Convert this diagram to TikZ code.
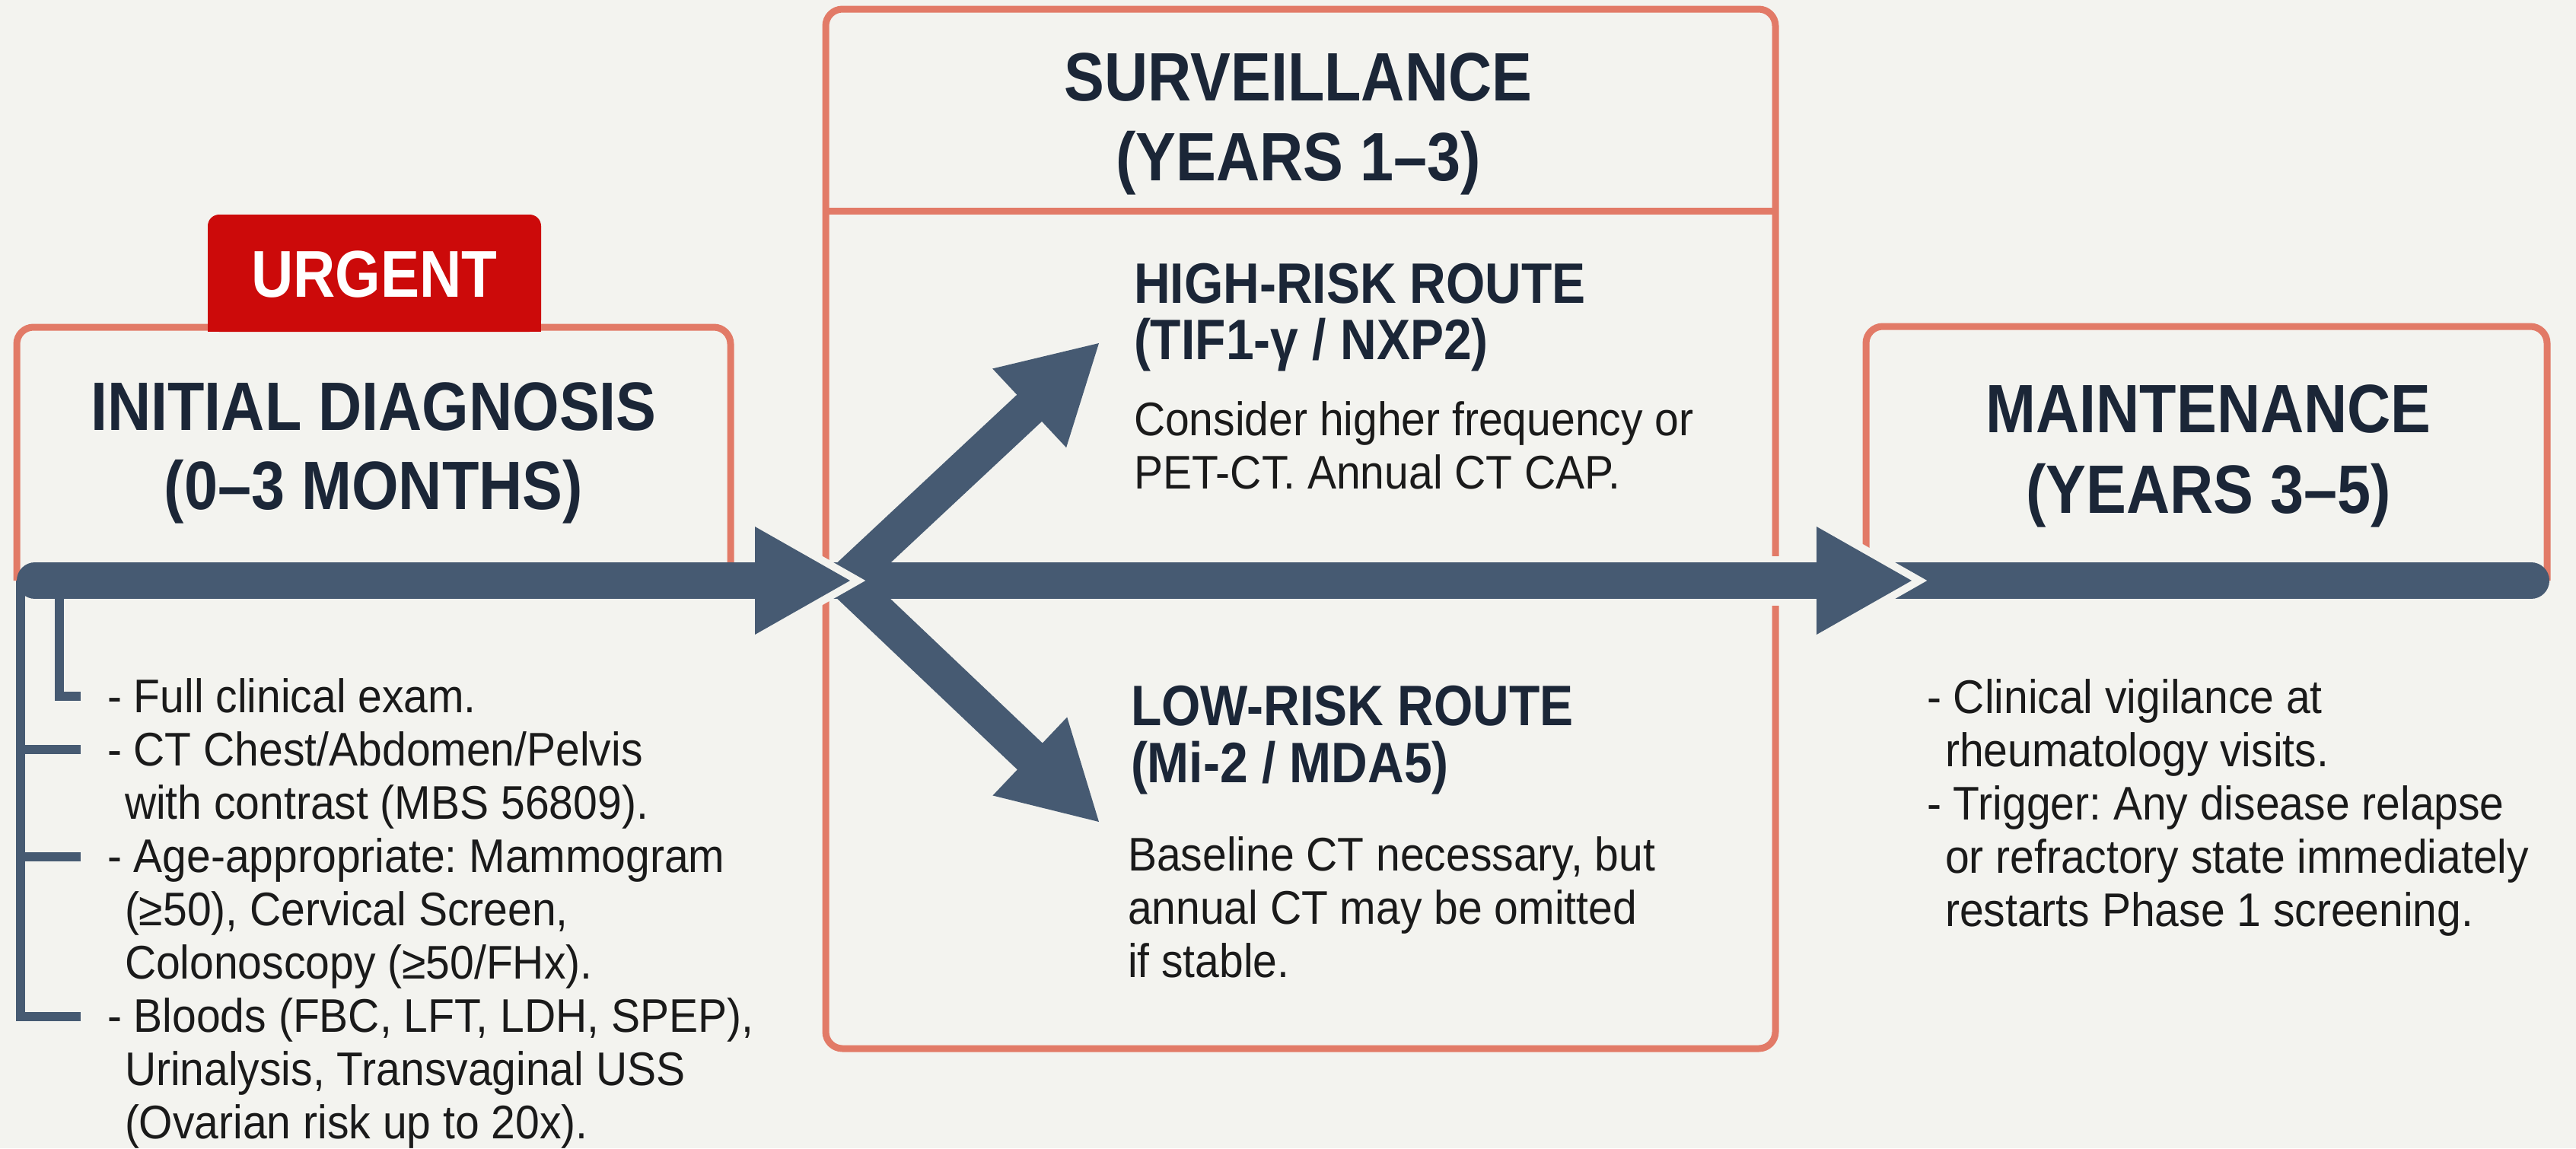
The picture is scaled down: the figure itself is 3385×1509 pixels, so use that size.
\documentclass[tikz,border=0pt]{standalone}
\usepackage{fontspec}
\setmainfont{Liberation Sans}
\newfontfamily\headfont[FakeStretch=0.88]{Liberation Sans}
\newfontfamily\bodyfont[FakeStretch=0.92]{Liberation Sans}
\usetikzlibrary{calc}
\definecolor{bgc}{HTML}{F3F3EF}
\definecolor{slate}{HTML}{465A72}
\definecolor{salmon}{HTML}{E27A67}
\definecolor{urgred}{HTML}{CC0A0A}
\definecolor{navy}{HTML}{1B2637}
\definecolor{bodyc}{HTML}{1A1A1A}
\frenchspacing
\newcommand\arrowheadto[2]{%
  \coordinate (#2b) at ($(#2)!25pt!(#1)$);
  \coordinate (#2l) at ($(#2b)!14.2pt!90:(#2)$);
  \coordinate (#2r) at ($(#2b)!14.2pt!-90:(#2)$);
  \draw[bgc, line width=4pt, line join=miter] (#2l) -- (#2) -- (#2r);
  \fill[slate] (#2l) -- (#2) -- (#2r) -- cycle;
}
\newcommand\lines[1]{\vtop{\lineskiplimit=-100pt\relax #1}}
\begin{document}
\begin{tikzpicture}[x=0.2pt,y=-0.2pt,
  boxline/.style={draw=salmon, line width=1.8pt, rounded corners=4.4pt},
  shaft/.style={draw=slate, line width=9.6pt},
  bracket/.style={draw=slate, line width=2.4pt, line join=miter},
  head/.style={inner sep=0pt, text=navy, font=\headfont\bfseries\fontsize{18}{21}\selectfont},
  urg/.style={inner sep=0pt, text=white, font=\headfont\bfseries\fontsize{17.4}{21}\selectfont},
  route/.style={inner sep=0pt, text=navy, font=\headfont\bfseries\fontsize{15}{18}\selectfont},
  body/.style={inner sep=0pt, text=bodyc, font=\bodyfont\frenchspacing\fontsize{12.4}{14}\selectfont},
]
\useasboundingbox[fill=bgc] (0,0) rectangle (3385,1509);

% boxes
\draw[boxline] (22,763) -- (22,430) -- (960,430) -- (960,763);
\fill[urgred, rounded corners=3pt] (273,282) rectangle (711,436);
\fill[urgred] (273,380) rectangle (711,436);
\draw[boxline] (1085,12) rectangle (2333,1378);
\draw[draw=salmon, line width=1.8pt] (1085,277) -- (2333,277);
\draw[boxline] (2452,763) -- (2452,429) -- (3347,429) -- (3347,763);

% coordinates
\coordinate (barL) at (46,763);
\coordinate (barR) at (3326,763);
\coordinate (fork) at (1110,763);
\coordinate (inA) at (900,763);
\coordinate (tipA) at (1117,763);
\coordinate (inB) at (2300,763);
\coordinate (tipB) at (2512,763);
\coordinate (tipUp) at (1444,451);
\coordinate (tipDn) at (1444,1080);

% halo where bar crosses the right border of the surveillance box
\draw[bgc, line width=13pt] (2318,763) -- (2348,763);
% main bar
\draw[shaft, line cap=round] (barL) -- (barR);
% branches
\draw[shaft] (fork) -- ($(tipUp)!20pt!(fork)$);
\draw[shaft] (fork) -- ($(tipDn)!20pt!(fork)$);

% bracket
\draw[bracket] (27,763) -- (27,1336) -- (106,1336);
\draw[bracket] (27,985) -- (106,985);
\draw[bracket] (27,1126) -- (106,1126);
\draw[bracket] (78,763) -- (78,915) -- (106,915);

% arrow heads
\arrowheadto{inA}{tipA}
\arrowheadto{fork}{tipUp}
\arrowheadto{fork}{tipDn}
\arrowheadto{inB}{tipB}

% texts
\node[urg, anchor=base] (urgent) at (492,390) {URGENT};
\node[head, anchor=base] (initA) at (491,565) {INITIAL DIAGNOSIS};
\node[head, anchor=base] (initB) at (491,669) {(0–3 MONTHS)};
\node[head, anchor=base] (survA) at (1706,132) {SURVEILLANCE};
\node[head, anchor=base] (survB) at (1706,237) {(YEARS 1–3)};
\node[head, anchor=base] (mainA) at (2902,568) {MAINTENANCE};
\node[head, anchor=base] (mainB) at (2902,674) {(YEARS 3–5)};

\node[route, anchor=base west] (hiA) at (1489,398) {HIGH-RISK ROUTE};
\node[route, anchor=base west] (hiB) at (1489,472) {(TIF1-γ / NXP2)};
\node[body, anchor=base west] (hiC) at (1489,572) {\lines{\hbox{Consider higher frequency or}\hbox{PET-CT. Annual CT CAP.}}};

\node[route, anchor=base west] (loA) at (1485,953) {LOW-RISK ROUTE};
\node[route, anchor=base west] (loB) at (1485,1028) {(Mi-2 / MDA5)};
\node[body, anchor=base west] (loC) at (1481,1144) {\lines{\hbox{Baseline CT necessary, but}\hbox{annual CT may be omitted}\hbox{if stable.}}};

\node[body, anchor=base west] (initC) at (140,936) {\lines{%
\hbox{- Full clinical exam.}%
\hbox{- CT Chest/Abdomen/Pelvis}%
\hbox{\kern4.6pt with contrast (MBS 56809).}%
\hbox{- Age-appropriate: Mammogram}%
\hbox{\kern4.6pt (≥50), Cervical Screen,}%
\hbox{\kern4.6pt Colonoscopy (≥50/FHx).}%
\hbox{- Bloods (FBC, LFT, LDH, SPEP),}%
\hbox{\kern4.6pt Urinalysis, Transvaginal USS}%
\hbox{\kern4.6pt (Ovarian risk up to 20x).}}};

\node[body, anchor=base west] (mainC) at (2531,937) {\lines{%
\hbox{- Clinical vigilance at}%
\hbox{\kern4.8pt rheumatology visits.}%
\hbox{- Trigger: Any disease relapse}%
\hbox{\kern4.8pt or refractory state immediately}%
\hbox{\kern4.8pt restarts Phase 1 screening.}}};
\end{tikzpicture}
\end{document}
